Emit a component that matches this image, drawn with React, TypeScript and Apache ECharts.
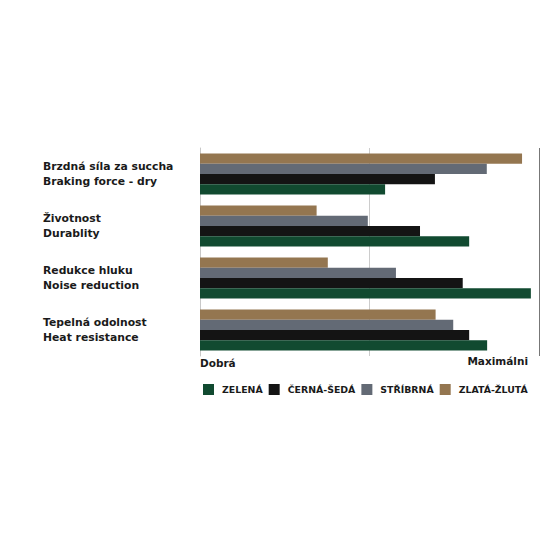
import React, { useEffect, useRef } from 'react'
import * as echarts from 'echarts'

const categories = [
  'Brzdná síla za succha\nBraking force - dry',
  'Životnost\nDurablity',
  'Redukce hluku\nNoise reduction',
  'Tepelná odolnost\nHeat resistance',
]

const seriesNames = ['ZELENÁ', 'ČERNÁ-ŠEDÁ', 'STŘÍBRNÁ', 'ZLATÁ-ŽLUTÁ']
const seriesColors = ['#114a30', '#141414', '#636a75', '#947650']

const greenValues = [54.6, 79.4, 97.6, 84.7]
const blackValues = [69.3, 64.9, 77.5, 79.4]
const silverValues = [84.6, 49.5, 57.8, 74.7]
const goldValues = [95, 34.4, 37.7, 69.5]

const seriesValues = [greenValues, blackValues, silverValues, goldValues]

const App: React.FC = () => {
  const chartRef = useRef<HTMLDivElement>(null)

  useEffect(() => {
    if (!chartRef.current) return
    const chart = echarts.init(chartRef.current, undefined, { renderer: 'svg' })
    const font = 'DejaVu Sans'

    // inverse y axis puts the first series on top, so feed gold first (green ends at the bottom)
    const order = [3, 2, 1, 0]

    chart.setOption({
      animation: false,
      backgroundColor: '#ffffff',
      grid: { left: 200, right: 1, top: 148, bottom: 184, outerBoundsMode: 'none', containLabel: false },
      legend: {
        left: 198,
        top: 379,
        icon: 'rect',
        itemWidth: 11,
        itemHeight: 11,
        itemGap: 6,
        data: seriesNames,
        textStyle: { fontFamily: font, fontWeight: 'bold', fontSize: 9.4, color: '#1a1a1a', padding: [0, 0, 0, 3] },
      },
      xAxis: {
        type: 'value',
        min: 0,
        max: 100,
        interval: 50,
        axisLine: { show: false },
        axisTick: { show: false },
        splitLine: { lineStyle: { color: ['#cccccc', '#cccccc', '#777777'], width: 1 } },
        axisLabel: {
          margin: 0,
          showMinLabel: true,
          showMaxLabel: true,
          alignMinLabel: 'left',
          alignMaxLabel: 'right',
          formatter: (v: number) => (v === 0 ? '{min|Dobrá}' : v === 100 ? '{max|Maximálni}' : ''),
          rich: {
            min: { fontFamily: font, fontWeight: 'bold', fontSize: 10.5, lineHeight: 12, color: '#1a1a1a', padding: [2, 0, 0, 0] },
            max: { fontFamily: font, fontWeight: 'bold', fontSize: 10.5, lineHeight: 10, color: '#1a1a1a', padding: [0, 11, 0, 0] },
          },
        },
      },
      yAxis: {
        type: 'category',
        inverse: true,
        data: categories,
        axisLine: { lineStyle: { color: '#c8c8c8', width: 1 } },
        axisTick: { show: false },
        axisLabel: {
          align: 'left',
          margin: 157,
          fontFamily: font,
          fontWeight: 'bold',
          fontSize: 10.8,
          lineHeight: 15,
          color: '#1a1a1a',
        },
      },
      series: order.map((i) => ({
        name: seriesNames[i],
        type: 'bar',
        data: seriesValues[i],
        barWidth: 10.3,
        barGap: '0%',
        itemStyle: { color: seriesColors[i] },
        z: 3,
      })),
    })

    return () => chart.dispose()
  }, [])

  return <div ref={chartRef} style={{ position: 'fixed', left: 0, top: 0, width: 540, height: 540 }} />
}

export default App
